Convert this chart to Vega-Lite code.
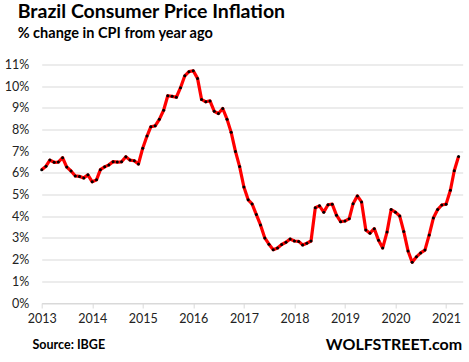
{
  "$schema": "https://vega.github.io/schema/vega-lite/v6.json",
  "width": 421,
  "height": 238.5,
  "autosize": {"type": "none"},
  "padding": {"left": 41.7, "top": 64.5, "right": 6.3, "bottom": 58.5},
  "background": "white",
  "title": {
    "text": "Brazil Consumer Price Inflation",
    "subtitle": "% change in CPI from year ago",
    "anchor": "start",
    "frame": "group",
    "orient": "top",
    "dx": -24,
    "offset": 17,
    "font": "Lato",
    "fontSize": 19.5,
    "fontWeight": "bold",
    "color": "#000000",
    "subtitleFont": "Lato",
    "subtitleFontSize": 14.5,
    "subtitleFontWeight": "bold",
    "subtitleColor": "#000000",
    "subtitlePadding": 5
  },
  "data": {
    "values": [
      {"month": "2013-01-01", "cpi": 6.15}, {"month": "2013-02-01", "cpi": 6.31}, {"month": "2013-03-01", "cpi": 6.59}, {"month": "2013-04-01", "cpi": 6.49},
      {"month": "2013-05-01", "cpi": 6.50}, {"month": "2013-06-01", "cpi": 6.70}, {"month": "2013-07-01", "cpi": 6.27}, {"month": "2013-08-01", "cpi": 6.09},
      {"month": "2013-09-01", "cpi": 5.86}, {"month": "2013-10-01", "cpi": 5.84}, {"month": "2013-11-01", "cpi": 5.77}, {"month": "2013-12-01", "cpi": 5.91},
      {"month": "2014-01-01", "cpi": 5.59}, {"month": "2014-02-01", "cpi": 5.68}, {"month": "2014-03-01", "cpi": 6.15}, {"month": "2014-04-01", "cpi": 6.28},
      {"month": "2014-05-01", "cpi": 6.37}, {"month": "2014-06-01", "cpi": 6.52}, {"month": "2014-07-01", "cpi": 6.50}, {"month": "2014-08-01", "cpi": 6.51},
      {"month": "2014-09-01", "cpi": 6.75}, {"month": "2014-10-01", "cpi": 6.59}, {"month": "2014-11-01", "cpi": 6.56}, {"month": "2014-12-01", "cpi": 6.41},
      {"month": "2015-01-01", "cpi": 7.14}, {"month": "2015-02-01", "cpi": 7.70}, {"month": "2015-03-01", "cpi": 8.13}, {"month": "2015-04-01", "cpi": 8.17},
      {"month": "2015-05-01", "cpi": 8.47}, {"month": "2015-06-01", "cpi": 8.89}, {"month": "2015-07-01", "cpi": 9.56}, {"month": "2015-08-01", "cpi": 9.53},
      {"month": "2015-09-01", "cpi": 9.49}, {"month": "2015-10-01", "cpi": 9.93}, {"month": "2015-11-01", "cpi": 10.48}, {"month": "2015-12-01", "cpi": 10.67},
      {"month": "2016-01-01", "cpi": 10.71}, {"month": "2016-02-01", "cpi": 10.36}, {"month": "2016-03-01", "cpi": 9.39}, {"month": "2016-04-01", "cpi": 9.28},
      {"month": "2016-05-01", "cpi": 9.32}, {"month": "2016-06-01", "cpi": 8.84}, {"month": "2016-07-01", "cpi": 8.74}, {"month": "2016-08-01", "cpi": 8.97},
      {"month": "2016-09-01", "cpi": 8.48}, {"month": "2016-10-01", "cpi": 7.87}, {"month": "2016-11-01", "cpi": 6.99}, {"month": "2016-12-01", "cpi": 6.29},
      {"month": "2017-01-01", "cpi": 5.35}, {"month": "2017-02-01", "cpi": 4.76}, {"month": "2017-03-01", "cpi": 4.57}, {"month": "2017-04-01", "cpi": 4.08},
      {"month": "2017-05-01", "cpi": 3.60}, {"month": "2017-06-01", "cpi": 3.00}, {"month": "2017-07-01", "cpi": 2.71}, {"month": "2017-08-01", "cpi": 2.46},
      {"month": "2017-09-01", "cpi": 2.54}, {"month": "2017-10-01", "cpi": 2.70}, {"month": "2017-11-01", "cpi": 2.80}, {"month": "2017-12-01", "cpi": 2.95},
      {"month": "2018-01-01", "cpi": 2.86}, {"month": "2018-02-01", "cpi": 2.84}, {"month": "2018-03-01", "cpi": 2.68}, {"month": "2018-04-01", "cpi": 2.76},
      {"month": "2018-05-01", "cpi": 2.86}, {"month": "2018-06-01", "cpi": 4.39}, {"month": "2018-07-01", "cpi": 4.48}, {"month": "2018-08-01", "cpi": 4.19},
      {"month": "2018-09-01", "cpi": 4.53}, {"month": "2018-10-01", "cpi": 4.56}, {"month": "2018-11-01", "cpi": 4.05}, {"month": "2018-12-01", "cpi": 3.75},
      {"month": "2019-01-01", "cpi": 3.78}, {"month": "2019-02-01", "cpi": 3.89}, {"month": "2019-03-01", "cpi": 4.58}, {"month": "2019-04-01", "cpi": 4.94},
      {"month": "2019-05-01", "cpi": 4.66}, {"month": "2019-06-01", "cpi": 3.37}, {"month": "2019-07-01", "cpi": 3.22}, {"month": "2019-08-01", "cpi": 3.43},
      {"month": "2019-09-01", "cpi": 2.89}, {"month": "2019-10-01", "cpi": 2.54}, {"month": "2019-11-01", "cpi": 3.27}, {"month": "2019-12-01", "cpi": 4.31},
      {"month": "2020-01-01", "cpi": 4.19}, {"month": "2020-02-01", "cpi": 4.01}, {"month": "2020-03-01", "cpi": 3.30}, {"month": "2020-04-01", "cpi": 2.40},
      {"month": "2020-05-01", "cpi": 1.88}, {"month": "2020-06-01", "cpi": 2.13}, {"month": "2020-07-01", "cpi": 2.31}, {"month": "2020-08-01", "cpi": 2.44},
      {"month": "2020-09-01", "cpi": 3.14}, {"month": "2020-10-01", "cpi": 3.92}, {"month": "2020-11-01", "cpi": 4.31}, {"month": "2020-12-01", "cpi": 4.52},
      {"month": "2021-01-01", "cpi": 4.56}, {"month": "2021-02-01", "cpi": 5.20}, {"month": "2021-03-01", "cpi": 6.10}, {"month": "2021-04-01", "cpi": 6.76}
    ]
  },
  "encoding": {
    "x": {
      "field": "month",
      "type": "temporal",
      "scale": {
        "type": "utc",
        "domain": [
          {"year": 2013, "month": 1, "date": 1, "utc": true},
          {"year": 2021, "month": 5, "date": 1, "utc": true}
        ]
      },
      "axis": {
        "tickCount": "year",
        "format": "%Y",
        "grid": false,
        "domain": true,
        "domainColor": "#d9d9d9",
        "domainWidth": 1,
        "ticks": true,
        "tickColor": "#d9d9d9",
        "tickSize": 5,
        "labelFont": "Lato",
        "labelFontSize": 12.5,
        "labelColor": "#222222",
        "labelPadding": 4,
        "labelFlush": false,
        "labelOverlap": false,
        "title": "Source: IBGE",
        "titleFont": "Lato",
        "titleFontSize": 12.5,
        "titleFontWeight": "bold",
        "titleColor": "#000000",
        "titleAnchor": "start",
        "titleAlign": "left",
        "titleBaseline": "middle",
        "titleX": -9.7,
        "titleY": 41
      }
    },
    "y": {
      "field": "cpi",
      "type": "quantitative",
      "scale": {"domain": [0, 11], "nice": false, "zero": true},
      "axis": {
        "values": [0, 1, 2, 3, 4, 5, 6, 7, 8, 9, 10, 11],
        "labelExpr": "datum.value + '%'",
        "grid": true,
        "gridColor": "#d9d9d9",
        "gridWidth": 1,
        "domain": false,
        "ticks": false,
        "labelFont": "Lato",
        "labelFontSize": 12.5,
        "labelColor": "#222222",
        "labelPadding": 13,
        "title": "WOLFSTREET.com",
        "titleFont": "Lato",
        "titleFontSize": 16,
        "titleFontWeight": "bold",
        "titleColor": "#000000",
        "titleAngle": 0,
        "titleAlign": "right",
        "titleBaseline": "middle",
        "titleX": 420,
        "titleY": 279.5
      }
    }
  },
  "layer": [
    {"mark": {"type": "line", "color": "#ff0000", "strokeWidth": 3.2, "strokeJoin": "round"}},
    {"mark": {"type": "point", "filled": true, "color": "#000000", "opacity": 1, "size": 9, "shape": "circle"}}
  ],
  "config": {"view": {"stroke": null}}
}
